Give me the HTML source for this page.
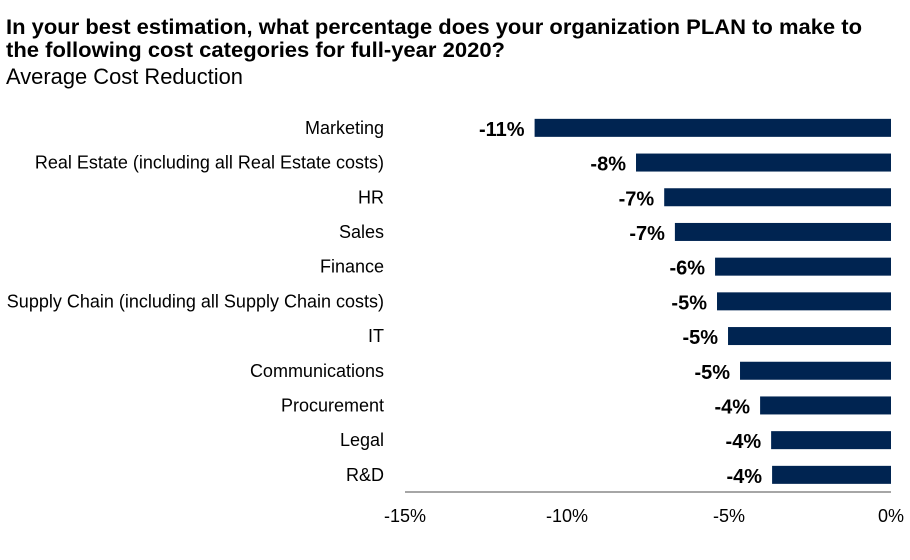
<!DOCTYPE html>
<html><head><meta charset="utf-8"><style>
body{margin:0;background:#fff;font-family:"Liberation Sans",Arial,sans-serif;}
</style></head><body>
<svg width="910" height="555" xmlns="http://www.w3.org/2000/svg" style="font-family:'Liberation Sans',Arial,sans-serif">
<text x="6" y="34" font-size="21" font-weight="bold" fill="#000" textLength="856" lengthAdjust="spacingAndGlyphs">In your best estimation, what percentage does your organization PLAN to make to</text>
<text x="6" y="57" font-size="21" font-weight="bold" fill="#000" textLength="499" lengthAdjust="spacingAndGlyphs">the following cost categories for full-year 2020?</text>
<text x="6" y="84" font-size="22" fill="#000" textLength="237" lengthAdjust="spacingAndGlyphs">Average Cost Reduction</text>
<g id="plot"></g>
</svg>
<script>
const categories=["Marketing","Real Estate (including all Real Estate costs)","HR","Sales","Finance","Supply Chain (including all Supply Chain costs)","IT ","Communications","Procurement","Legal","R&D"];
const values=[-11.0,-7.87,-7.0,-6.67,-5.43,-5.37,-5.03,-4.66,-4.04,-3.70,-3.67];
const valueLabels=["-11%","-8%","-7%","-7%","-6%","-5%","-5%","-5%","-4%","-4%","-4%"];
const ticks=[-15,-10,-5,0];
const tickLabels=["-15%","-10%","-5%","0%"];
const ns="http://www.w3.org/2000/svg";
const g=document.getElementById('plot');
const x0=405,x1=891,top0=110.5,step=34.7,bh=18;
const xs=v=>x0+(v+15)/15*(x1-x0);
const ys=i=>top0+i*step+step/2;
function mk(t,a){const e=document.createElementNS(ns,t);for(const k in a)e.setAttribute(k,a[k]);g.appendChild(e);return e;}
categories.forEach((c,i)=>{
 const y=ys(i),v=values[i];
 const r=mk('rect',{x:xs(v),y:y-bh/2,width:xs(0)-xs(v),height:bh,fill:'#002451'});
 
 
 const t=mk('text',{x:384,y:y+6,'font-size':18,'text-anchor':'end',fill:'#000'});t.textContent=c;
 
 
 const l=mk('text',{x:xs(v)-10,y:y+8,'font-size':20,'font-weight':'bold','text-anchor':'end',fill:'#000'});l.textContent=valueLabels[i];
 
 
});
const ax=mk('line',{x1:x0,x2:x1,y1:492,y2:492,stroke:'#888','stroke-width':1.5});


ticks.forEach((tk,i)=>{
 const t=mk('text',{x:xs(tk),y:522,'font-size':18,'text-anchor':'middle',fill:'#000'});t.textContent=tickLabels[i];
 
 
});
</script>
</body></html>
